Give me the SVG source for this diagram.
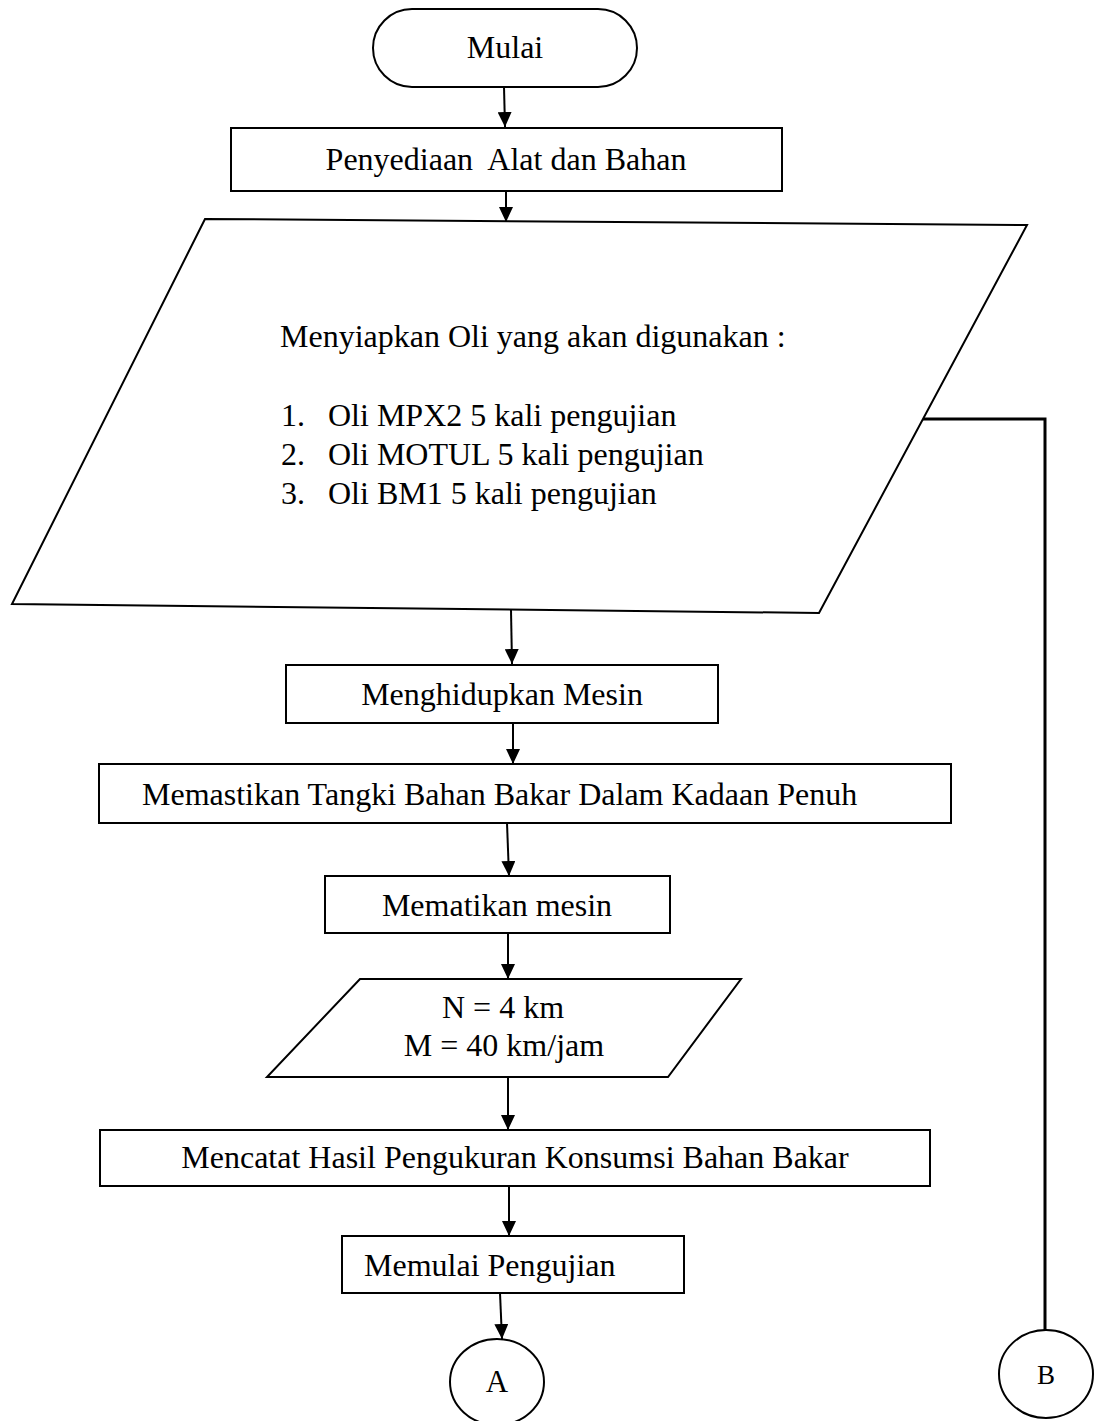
<svg xmlns="http://www.w3.org/2000/svg" width="1094" height="1421" viewBox="0 0 1094 1421">
  <style>
    .shape { fill: #fff; stroke: #000; stroke-width: 2; }
    .lbl { font-family: "Liberation Serif", "Times New Roman", serif; font-size: 32px; fill: #000; }
    .mid { text-anchor: middle; }
    .flow { fill: none; stroke: #000; stroke-width: 2; }
    .link { fill: none; stroke: #000; stroke-width: 3; }
  </style>
  <defs>
    <marker id="arrow" viewBox="0 0 15 14" markerWidth="15" markerHeight="14" refX="15" refY="7" orient="auto" markerUnits="userSpaceOnUse">
      <path d="M0,0 L15,7 L0,14 z" fill="#000"/>
    </marker>
  </defs>

  <rect width="1094" height="1421" fill="#fff"/>

  <!-- connectors -->
  <g id="connectors">
    <line class="flow" x1="504" y1="87" x2="505" y2="127" marker-end="url(#arrow)"/>
    <line class="flow" x1="506" y1="191" x2="506" y2="222" marker-end="url(#arrow)"/>
    <line class="flow" x1="511" y1="610" x2="512" y2="664" marker-end="url(#arrow)"/>
    <line class="flow" x1="513" y1="723" x2="513" y2="764" marker-end="url(#arrow)"/>
    <line class="flow" x1="507" y1="823" x2="509" y2="876" marker-end="url(#arrow)"/>
    <line class="flow" x1="508" y1="933" x2="508" y2="979" marker-end="url(#arrow)"/>
    <line class="flow" x1="508" y1="1077" x2="508" y2="1130" marker-end="url(#arrow)"/>
    <line class="flow" x1="509" y1="1186" x2="509" y2="1236" marker-end="url(#arrow)"/>
    <line class="flow" x1="500" y1="1293" x2="502" y2="1339" marker-end="url(#arrow)"/>
    <polyline class="link" points="920,419 1045,419 1045,1330"/>
  </g>

  <g id="start">
    <rect class="shape" x="373" y="9" width="264" height="78" rx="39" ry="39"/>
    <text class="lbl mid" x="505" y="58">Mulai</text>
  </g>

  <g id="prepare-tools">
    <rect class="shape" x="231" y="128" width="551" height="63"/>
    <text class="lbl mid" x="506" y="170" style="white-space:pre">Penyediaan  Alat dan Bahan</text>
  </g>

  <g id="prepare-oil">
    <polygon class="shape" points="205,219 1027,225 819,613 12,604"/>
    <text class="lbl" x="280" y="347">Menyiapkan Oli yang akan digunakan :</text>
    <text class="lbl" x="281" y="426">1.</text>
    <text class="lbl" x="328" y="426">Oli MPX2 5 kali pengujian</text>
    <text class="lbl" x="281" y="465">2.</text>
    <text class="lbl" x="328" y="465">Oli MOTUL 5 kali pengujian</text>
    <text class="lbl" x="281" y="504">3.</text>
    <text class="lbl" x="328" y="504">Oli BM1 5 kali pengujian</text>
  </g>

  <g id="engine-on">
    <rect class="shape" x="286" y="665" width="432" height="58"/>
    <text class="lbl mid" x="502" y="705">Menghidupkan Mesin</text>
  </g>

  <g id="fuel-tank">
    <rect class="shape" x="99" y="764" width="852" height="59"/>
    <text class="lbl" x="142" y="805">Memastikan Tangki Bahan Bakar Dalam Kadaan Penuh</text>
  </g>

  <g id="engine-off">
    <rect class="shape" x="325" y="876" width="345" height="57"/>
    <text class="lbl mid" x="497" y="916">Mematikan mesin</text>
  </g>

  <g id="parameters">
    <polygon class="shape" points="360,979 741,979 668,1077 267,1077"/>
    <text class="lbl mid" x="503" y="1018">N = 4 km</text>
    <text class="lbl mid" x="504" y="1056">M = 40 km/jam</text>
  </g>

  <g id="record">
    <rect class="shape" x="100" y="1130" width="830" height="56"/>
    <text class="lbl mid" x="515" y="1168">Mencatat Hasil Pengukuran Konsumsi Bahan Bakar</text>
  </g>

  <g id="begin-test">
    <rect class="shape" x="342" y="1236" width="342" height="57"/>
    <text class="lbl" x="364" y="1276">Memulai Pengujian</text>
  </g>

  <g id="connector-a">
    <ellipse class="shape" cx="497" cy="1382" rx="47" ry="43"/>
    <text class="lbl mid" x="497" y="1392" style="font-size:31px">A</text>
  </g>

  <g id="connector-b">
    <ellipse class="shape" cx="1046" cy="1374" rx="47" ry="44"/>
    <text class="lbl mid" x="1046" y="1384" style="font-size:27px">B</text>
  </g>
</svg>
